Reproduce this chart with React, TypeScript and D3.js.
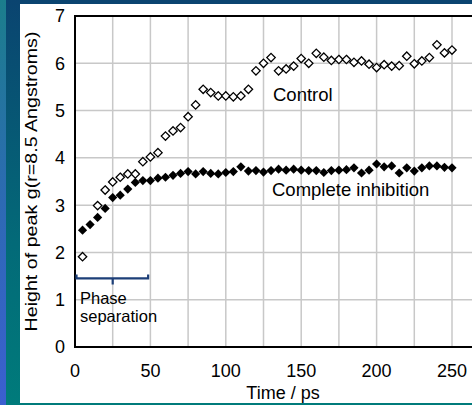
import { useEffect, useRef } from "react";
import * as d3 from "d3";

// time (ps) and peak heights
const inhibitionTimes = d3.range(5, 251, 5);
const inhibitionValues = [
  2.47, 2.59, 2.74, 2.93, 3.16, 3.21, 3.34, 3.48, 3.52, 3.52,
  3.57, 3.59, 3.63, 3.67, 3.71, 3.66, 3.71, 3.67, 3.66, 3.69,
  3.71, 3.81, 3.72, 3.73, 3.70, 3.73, 3.76, 3.74, 3.76, 3.74,
  3.73, 3.73, 3.69, 3.73, 3.74, 3.75, 3.79, 3.68, 3.74, 3.87,
  3.81, 3.83, 3.68, 3.79, 3.72, 3.79, 3.83, 3.83, 3.80, 3.79,
];

const controlTimes = [5].concat(d3.range(15, 251, 5));
const controlValues = [
  1.91, 2.99, 3.32, 3.49, 3.59, 3.66, 3.66, 3.92, 4.02, 4.11,
  4.46, 4.57, 4.64, 4.87, 5.12, 5.45, 5.38, 5.31, 5.31, 5.29,
  5.31, 5.45, 5.84, 6.0, 6.12, 5.84, 5.88, 5.94, 6.1, 6.0,
  6.21, 6.13, 6.06, 6.08, 6.08, 6.02, 6.05, 5.98, 5.91, 5.97,
  5.94, 5.95, 6.15, 5.99, 6.05, 6.12, 6.39, 6.22, 6.28,
];

const xTicks = [0, 50, 100, 150, 200, 250];
const xGrid = d3.range(25, 251, 25);
const yTicks = [0, 1, 2, 3, 4, 5, 6, 7];

const W = 472;
const H = 405;
const FONT = "'Liberation Sans', Arial, sans-serif";

const diamond = (cx: number, cy: number, r: number) =>
  `M${cx},${cy - r}L${cx + r},${cy}L${cx},${cy + r}L${cx - r},${cy}Z`;

const App = () => {
  const svgRef = useRef<SVGSVGElement | null>(null);

  useEffect(() => {
    const svg = d3.select(svgRef.current);
    svg.selectAll("*").remove();

    // background frame
    const defs = svg.append("defs");
    const g1 = defs.append("linearGradient").attr("id", "edge").attr("x1", 0).attr("y1", 0).attr("x2", 0).attr("y2", 1);
    g1.append("stop").attr("offset", "0%").attr("stop-color", "#1b7e8c");
    g1.append("stop").attr("offset", "50%").attr("stop-color", "#2d6ab4");
    g1.append("stop").attr("offset", "100%").attr("stop-color", "#3b5fd0");
    const g2 = defs.append("linearGradient").attr("id", "band").attr("x1", 0).attr("y1", 0).attr("x2", 0).attr("y2", 1);
    g2.append("stop").attr("offset", "0%").attr("stop-color", "#0a4470");
    g2.append("stop").attr("offset", "60%").attr("stop-color", "#036a78");
    g2.append("stop").attr("offset", "100%").attr("stop-color", "#007b7b");

    svg.append("rect").attr("width", W).attr("height", H).attr("fill", "#007b7b");
    svg.append("rect").attr("width", W).attr("height", 5).attr("fill", "#0a4470");
    svg.append("rect").attr("x", 6).attr("width", 14).attr("height", H).attr("fill", "url(#band)");
    svg.append("rect").attr("width", 6).attr("height", H).attr("fill", "url(#edge)");
    svg.append("rect").attr("x", 20).attr("y", 4).attr("width", W - 20).attr("height", 399).attr("fill", "#fff");

    const x = d3.scaleLinear().domain([0, 250]).range([75, 452]);
    const y = d3.scaleLinear().domain([0, 7]).range([347, 16]);
    const right = W;

    // grid
    svg.append("g").selectAll("line").data(xGrid).enter().append("line")
      .attr("x1", (d) => x(d)).attr("x2", (d) => x(d))
      .attr("y1", y(7)).attr("y2", y(0))
      .attr("stroke", "#c8c8c8").attr("stroke-width", 1.5);
    svg.append("g").selectAll("line").data(yTicks.slice(1, -1)).enter().append("line")
      .attr("x1", x(0)).attr("x2", right)
      .attr("y1", (d) => y(d)).attr("y2", (d) => y(d))
      .attr("stroke", "#c8c8c8").attr("stroke-width", 1.5);

    // frame lines
    svg.append("line").attr("x1", x(0)).attr("x2", right).attr("y1", y(0)).attr("y2", y(0))
      .attr("stroke", "#000").attr("stroke-width", 2);
    svg.append("line").attr("x1", x(0)).attr("x2", right).attr("y1", y(7)).attr("y2", y(7))
      .attr("stroke", "#000").attr("stroke-width", 2);
    svg.append("line").attr("x1", x(0)).attr("x2", x(0)).attr("y1", y(7) - 1).attr("y2", y(0) + 1)
      .attr("stroke", "#000").attr("stroke-width", 2);

    // tick labels
    svg.append("g").selectAll("text").data(yTicks).enter().append("text")
      .attr("x", 65).attr("y", (d) => y(d)).attr("dy", "0.36em")
      .attr("text-anchor", "end").attr("font-family", FONT).attr("font-size", 18)
      .text((d) => d);
    svg.append("g").selectAll("text").data(xTicks).enter().append("text")
      .attr("x", (d) => x(d)).attr("y", 377)
      .attr("text-anchor", "middle").attr("font-family", FONT).attr("font-size", 18)
      .text((d) => d);

    // axis titles
    svg.append("text")
      .attr("transform", `translate(37,${(y(0) + y(7)) / 2}) rotate(-90)`)
      .attr("text-anchor", "middle").attr("font-family", FONT).attr("font-size", 17)
      .attr("textLength", 300).attr("lengthAdjust", "spacingAndGlyphs")
      .text("Height of peak g(r=8.5 Angstroms)");
    svg.append("text")
      .attr("x", 283).attr("y", 399)
      .attr("text-anchor", "middle").attr("font-family", FONT).attr("font-size", 18)
      .text("Time / ps");

    // control (open diamonds)
    svg.append("g").selectAll("path").data(controlTimes).enter().append("path")
      .attr("d", (d, i) => diamond(x(d), y(controlValues[i]), 4.2))
      .attr("fill", "#fff").attr("stroke", "#000").attr("stroke-width", 1.3);

    // complete inhibition (filled diamonds)
    svg.append("g").selectAll("path").data(inhibitionTimes).enter().append("path")
      .attr("d", (d, i) => diamond(x(d), y(inhibitionValues[i]), 4.6))
      .attr("fill", "#000");

    // series labels
    svg.append("text").attr("x", 273).attr("y", 101)
      .attr("font-family", FONT).attr("font-size", 18.5).text("Control");
    svg.append("text").attr("x", 272).attr("y", 196)
      .attr("font-family", FONT).attr("font-size", 18.5).text("Complete inhibition");

    // phase separation bracket
    const by = y(1.45);
    svg.append("path")
      .attr("d", `M${x(1)},${by - 4}V${by}H${x(48.5)}V${by - 4}M${x(25)},${by}V${by + 6}`)
      .attr("fill", "none").attr("stroke", "#1d3f78").attr("stroke-width", 2.2);
    svg.append("text").attr("x", 80).attr("y", 304)
      .attr("font-family", FONT).attr("font-size", 16.5).text("Phase");
    svg.append("text").attr("x", 80).attr("y", 322)
      .attr("font-family", FONT).attr("font-size", 16.5).text("separation");

    return () => {
      svg.selectAll("*").remove();
    };
  }, []);

  return (
    <svg ref={svgRef} width={W} height={H}
      style={{ position: "absolute", left: 0, top: 0, display: "block" }} />
  );
};

export default App;
